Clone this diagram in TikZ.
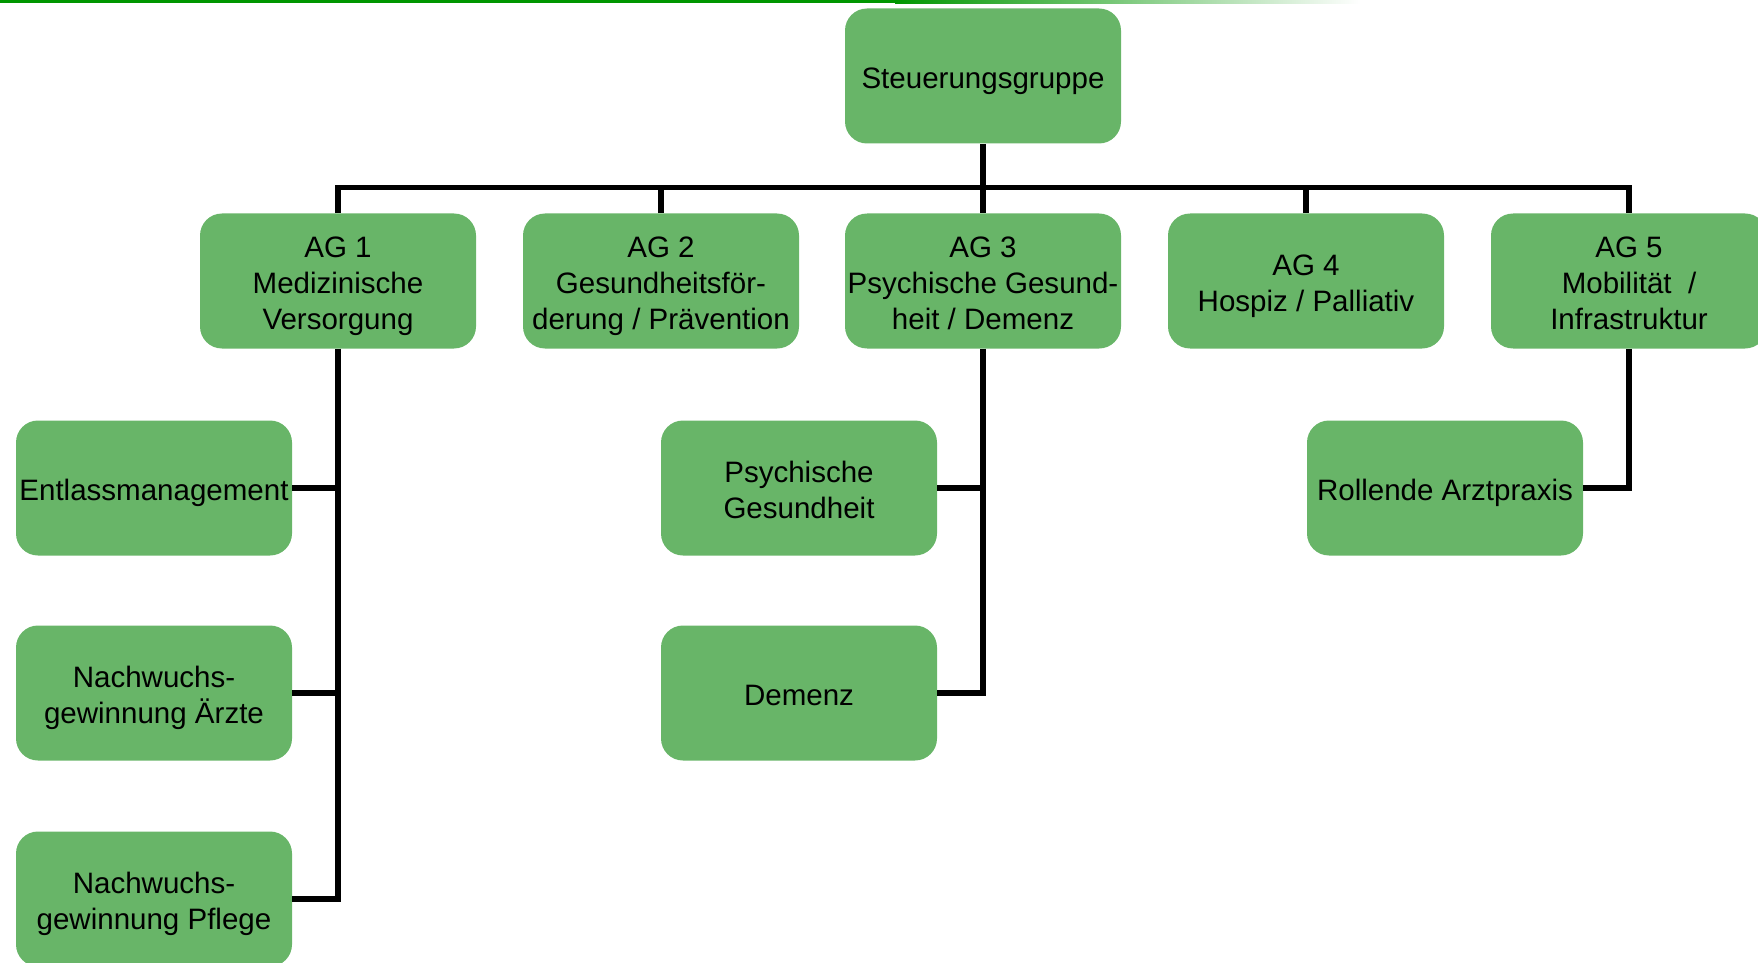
\documentclass[tikz,border=0pt]{standalone}
\usepackage{fontspec}
\setmainfont{Liberation Sans}
\usetikzlibrary{positioning}
\definecolor{boxgreen}{RGB}{104,181,104}
\definecolor{linegreen}{RGB}{0,150,0}

\begin{document}
\begin{tikzpicture}[
    box/.style={draw=none, fill=boxgreen, rounded corners=0.44cm,
      minimum width=5.52cm, minimum height=2.7cm, inner sep=0pt,
      align=center, font=\fontsize{16.8}{20.5}\selectfont},
    textdown/.style={execute at begin node={\rule[-3.6pt]{0pt}{\dimexpr#1+3.6pt\relax}}},
    conn/.style={draw=black, line width=3.2pt}
  ]
        \path[use as bounding box] (0,0) rectangle (35.16,-19.26);
        \fill[linegreen] (0,0) rectangle (17.9,-0.07);
        \shade[left color=linegreen, right color=white] (17.9,0) rectangle (27.2,-0.07);

        \node [box, textdown=0.62cm] (steuer) at (19.66, -1.52) {Steuerungsgruppe};

        \node [box, textdown=2.07cm] (ag1) at (6.76, -5.62) {AG 1\\Medizinische\\Versorgung};
        \node [box, textdown=2.07cm] (ag2) at (13.22, -5.62) {AG 2\\Gesundheitsför-\\derung / Prävention};
        \node [box, textdown=2.07cm] (ag3) at (19.66, -5.62) {AG 3\\Psychische Gesund-\\heit / Demenz};
        \node [box, textdown=1.34cm] (ag4) at (26.12, -5.62) {AG 4\\Hospiz / Palliativ};
        \node [box, textdown=2.07cm] (ag5) at (32.58, -5.62) {AG 5\\Mobilität~~/\\Infrastruktur};

        \node [box, textdown=0.62cm] (entl) at (3.08, -9.76) {Entlassmanagement};
        \node [box, textdown=1.34cm] (nwaerzte) at (3.08, -13.86) {Nachwuchs-\\gewinnung Ärzte};
        \node [box, textdown=1.34cm] (nwpflege) at (3.08, -17.98) {Nachwuchs-\\gewinnung Pflege};

        \node [box, textdown=1.34cm] (psych) at (15.98, -9.76) {Psychische\\Gesundheit};
        \node [box, textdown=0.62cm] (demenz) at (15.98, -13.86) {Demenz};

        \node [box, textdown=0.62cm] (rollend) at (28.9, -9.76) {Rollende Arztpraxis};

        \draw[conn] (steuer.south) -- (ag3.north);
        \draw[conn] (ag1.north) -- ++(0, 0.51) -| (ag5.north);
        \draw[conn] (ag2.north) -- ++(0, 0.51);
        \draw[conn] (ag4.north) -- ++(0, 0.51);

        \draw[conn] (ag1.south) |- (entl.east);
        \draw[conn] (ag1.south) |- (nwaerzte.east);
        \draw[conn] (ag1.south) |- (nwpflege.east);

        \draw[conn] (ag3.south) |- (psych.east);
        \draw[conn] (ag3.south) |- (demenz.east);

        \draw[conn] (ag5.south) |- (rollend.east);
      \end{tikzpicture}
\end{document}
